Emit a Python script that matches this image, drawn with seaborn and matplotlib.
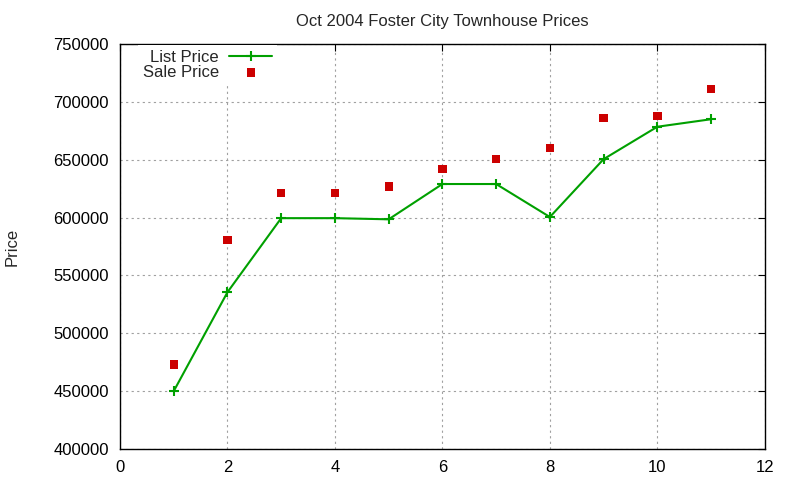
import matplotlib
matplotlib.use('Agg')
import matplotlib.pyplot as plt
import seaborn as sns
import pandas as pd

# data
month = [1, 2, 3, 4, 5, 6, 7, 8, 9, 10, 11]
list_price = [450000, 535500, 599500, 599500, 598500, 629000, 629000, 600500, 650500, 678500, 685000]
sale_price = [473000, 580500, 621000, 621000, 627000, 642000, 650500, 660000, 686000, 688000, 711000]

df = pd.DataFrame({'month': month, 'list': list_price, 'sale': sale_price})

sns.set_style('white')
plt.rcParams['font.family'] = ['Liberation Sans', 'DejaVu Sans']

fig = plt.figure(figsize=(8, 4.8), dpi=100)
ax = fig.add_axes([0.15, 0.0646, 0.806, 0.8437])

green = '#00a000'
red = '#cc0000'

sns.lineplot(data=df, x='month', y='list', ax=ax, color=green, linewidth=1.5,
             marker='+', markersize=7, markeredgewidth=1.5, markeredgecolor=green,
             label='List Price')
sns.scatterplot(data=df, x='month', y='sale', ax=ax, color=red, marker='s', s=36,
                edgecolor='none', linewidth=0, label='Sale Price', zorder=3)

ax.set_xlim(0, 12)
ax.set_ylim(400000, 750000)
ax.set_xticks(range(0, 13, 2))
ax.set_yticks(range(400000, 750001, 50000))
ax.ticklabel_format(style='plain', axis='y')

ax.grid(True, color='#a0a0a0', linestyle=(0, (2, 3)), linewidth=0.8)
ax.tick_params(direction='in', top=True, right=True, length=5, width=0.8,
               labelsize=12, colors='black', pad=8)
for s in ax.spines.values():
    s.set_color('black')
    s.set_linewidth(1.0)

ax.set_xlabel('')
ax.set_ylabel('Price', fontsize=12)
ax.yaxis.set_label_coords(-0.155, 0.5)
ax.set_title('Oct 2004 Foster City Townhouse Prices', fontsize=12, pad=13)

leg = ax.legend(loc='upper left', bbox_to_anchor=(0.02, 1.01), markerfirst=False,
                frameon=True, fontsize=12, handlelength=2.6, handletextpad=0.6,
                labelspacing=0.0, borderpad=0.3, borderaxespad=0.3)
leg.get_frame().set_facecolor('white')
leg.get_frame().set_edgecolor('none')
leg.get_frame().set_alpha(1)
leg.get_frame().set_boxstyle('square', pad=0)

fig.savefig('out.png', dpi=100)
